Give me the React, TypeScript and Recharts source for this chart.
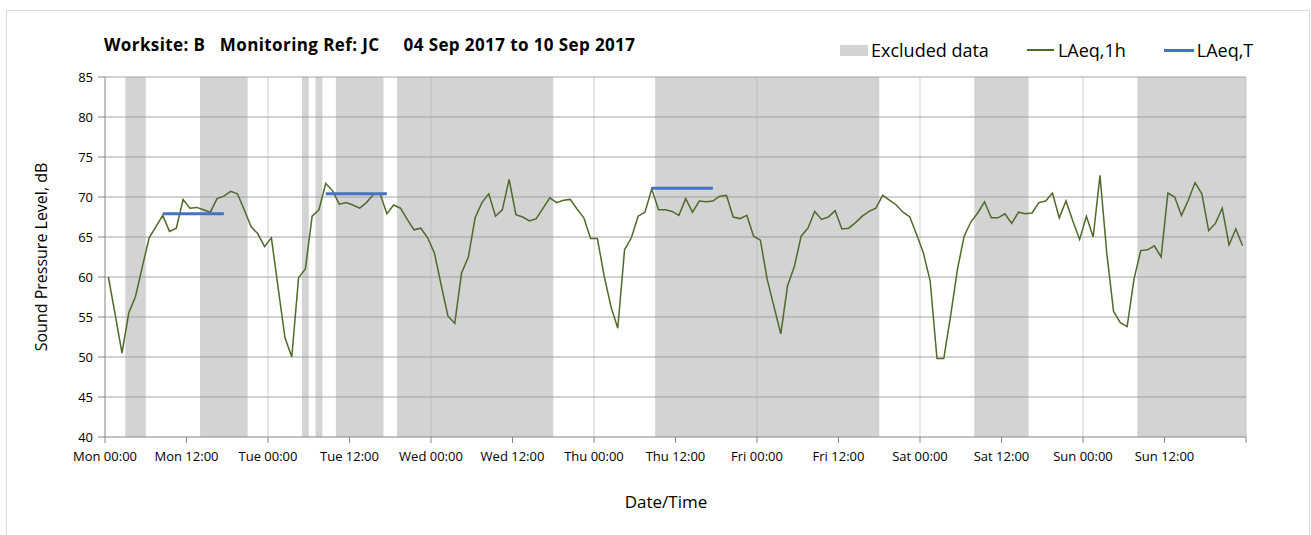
import React from "react";
import { LineChart, Line, XAxis, YAxis, ReferenceArea, ReferenceLine } from "recharts";

// x positions are hours from Mon 00:00, readings sit at the middle of each hour
const tickHours = [0, 12, 24, 36, 48, 60, 72, 84, 96, 108, 120, 132, 144, 156, 168];
const tickLabels = [
  "Mon 00:00", "Mon 12:00", "Tue 00:00", "Tue 12:00", "Wed 00:00", "Wed 12:00", "Thu 00:00",
  "Thu 12:00", "Fri 00:00", "Fri 12:00", "Sat 00:00", "Sat 12:00", "Sun 00:00", "Sun 12:00", "",
];
const dayLines = [24, 48, 72, 96, 120, 144, 168];
const yTicks = [40, 45, 50, 55, 60, 65, 70, 75, 80, 85];
const levelLines = [45, 50, 55, 60, 65, 70, 75, 80, 85];

const laeq1h = [
  60.0, 55.3, 50.5, 55.5, 57.6, 61.3, 64.9, 66.3, 67.7, 65.7, 66.1, 69.7, 68.6, 68.7, 68.4, 68.1,
  69.8, 70.1, 70.7, 70.4, 68.4, 66.3, 65.4, 63.8, 64.9, 58.6, 52.4, 50.0, 59.9, 61.0, 67.6, 68.4,
  71.7, 70.8, 69.1, 69.3, 69.0, 68.6, 69.3, 70.3, 70.4, 67.9, 69.0, 68.6, 67.2, 65.9, 66.1, 64.9,
  63.0, 59.0, 55.1, 54.2, 60.5, 62.5, 67.4, 69.3, 70.4, 67.6, 68.4, 72.2, 67.8, 67.5, 67.0, 67.3,
  68.6, 69.9, 69.3, 69.6, 69.7, 68.5, 67.4, 64.8, 64.8, 60.1, 56.3, 53.6, 63.4, 64.9, 67.6, 68.1,
  71.0, 68.4, 68.4, 68.2, 67.7, 69.8, 68.1, 69.5, 69.4, 69.5, 70.1, 70.2, 67.5, 67.3, 67.7, 65.1,
  64.6, 59.7, 56.3, 52.9, 58.9, 61.3, 65.1, 66.1, 68.2, 67.2, 67.5, 68.3, 66.0, 66.1, 66.8, 67.6,
  68.2, 68.6, 70.2, 69.6, 69.0, 68.1, 67.5, 65.3, 63.0, 59.5, 49.8, 49.8, 55.1, 60.9, 65.1, 66.9,
  68.0, 69.4, 67.4, 67.4, 67.9, 66.7, 68.1, 67.9, 68.0, 69.3, 69.5, 70.5, 67.4, 69.5, 67.0, 64.7,
  67.6, 65.0, 72.7, 63.0, 55.7, 54.3, 53.8, 59.7, 63.3, 63.4, 63.9, 62.5, 70.5, 70.0, 67.7, 69.6,
  71.8, 70.4, 65.8, 66.7, 68.6, 64.0, 66.0, 63.9,
];

const excludedStart = [3, 14, 29, 31, 34, 43, 81, 128, 152];
const excludedEnd = [6, 21, 30, 32, 41, 66, 114, 136, 168];

const periodStart = [8.5, 32.5, 80.5];
const periodEnd = [17.5, 41.5, 89.5];
const periodLevel = [67.9, 70.4, 71.1];

const hourly = laeq1h.map((v, i) => ({ h: i + 0.5, laeq: v }));

const font = "'Open Sans', sans-serif";
const axisGrey = "#868686";

const App: React.FC = () => {
  return (
    <div style={{ position: "absolute", left: 0, top: 0, width: 1311, height: 535, fontFamily: font, background: "#fff", overflow: "hidden" }}>
      {/* chart frame */}
      <div style={{ position: "absolute", left: 6, top: 10, width: 1302, height: 540, border: "1px solid #d9d9d9" }} />

      <div style={{ position: "absolute", left: 104, top: 33, fontSize: 17, letterSpacing: 0.4, fontWeight: 700, color: "#000", whiteSpace: "pre" }}>
        {"Worksite: B   Monitoring Ref: JC     04 Sep 2017 to 10 Sep 2017"}
      </div>

      {/* legend */}
      <div style={{ position: "absolute", left: 840, top: 37, height: 26, display: "flex", alignItems: "center", fontSize: 18, color: "#000" }}>
        <div style={{ width: 28, height: 11, background: "#d3d3d3", marginRight: 3 }} />
        <span>Excluded data</span>
        <div style={{ width: 27, height: 1.5, background: "#4f6a2a", marginLeft: 38, marginRight: 4 }} />
        <span>LAeq,1h</span>
        <div style={{ width: 30, height: 3, background: "#4472c4", marginLeft: 38, marginRight: 3 }} />
        <span>LAeq,T</span>
      </div>

      <div style={{ position: "absolute", left: 0, top: 0 }}>
        <LineChart width={1311} height={535} data={hourly} margin={{ top: 77, right: 65, left: 0, bottom: 0 }}>
          {excludedStart.map((s, i) => (
            <ReferenceArea key={"ex" + i} x1={s} x2={excludedEnd[i]} y1={40} y2={85} fill="#d3d3d3" fillOpacity={1} stroke="none" />
          ))}
          {levelLines.map((v) => (
            <ReferenceLine key={"y" + v} y={v} stroke="#9a9a9a" strokeOpacity={0.6} strokeWidth={1.3} />
          ))}
          {dayLines.map((v) => (
            <ReferenceLine key={"x" + v} x={v} stroke="#b2b2b2" strokeOpacity={0.5} strokeWidth={1.2} />
          ))}
          <XAxis
            dataKey="h"
            type="number"
            domain={[0, 168]}
            ticks={tickHours}
            interval={0}
            tickFormatter={(v: number) => tickLabels[tickHours.indexOf(v)]}
            height={98}
            tickSize={6}
            tickMargin={9}
            stroke={axisGrey}
            tick={{ fill: "#000", fontSize: 13, fontFamily: font }}
          />
          <YAxis
            type="number"
            domain={[40, 85]}
            ticks={yTicks}
            interval={0}
            width={105}
            tickSize={7}
            tickMargin={5}
            stroke={axisGrey}
            tick={{ fill: "#000", fontSize: 13, fontFamily: font }}
          />
          <Line dataKey="laeq" stroke="#4f6a2a" strokeWidth={1.5} dot={false} activeDot={false} isAnimationActive={false} />
          {periodStart.map((s, i) => (
            <Line
              key={"p" + i}
              data={[{ h: s, lt: periodLevel[i] }, { h: periodEnd[i], lt: periodLevel[i] }]}
              dataKey="lt"
              stroke="#4472c4"
              strokeWidth={3}
              dot={false}
              activeDot={false}
              isAnimationActive={false}
            />
          ))}
        </LineChart>
      </div>

      <div style={{ position: "absolute", left: 41, top: 257, transform: "translate(-50%, -50%) rotate(-90deg)", fontSize: 16, whiteSpace: "nowrap", color: "#000" }}>
        Sound Pressure Level, dB
      </div>
      <div style={{ position: "absolute", left: 666, top: 501, transform: "translate(-50%, -50%)", fontSize: 17, whiteSpace: "nowrap", color: "#000" }}>
        Date/Time
      </div>
    </div>
  );
};

export default App;
